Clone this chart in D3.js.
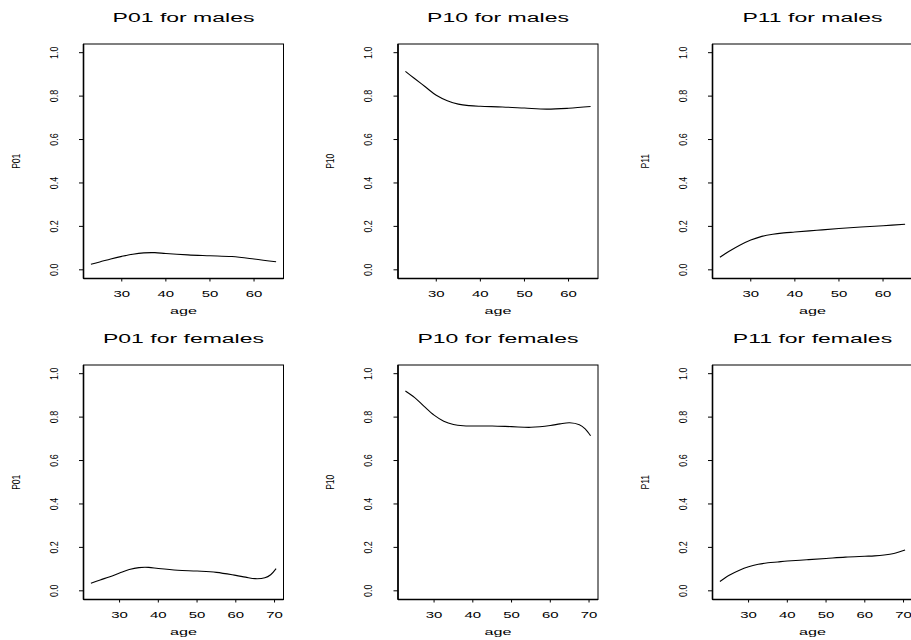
<!DOCTYPE html>
<html>
<head>
<meta charset="utf-8">
<script src="https://cdn.jsdelivr.net/npm/d3@7"></script>
<style>
  html, body { margin: 0; padding: 0; background: #fff; }
  svg { display: block; }
  text { font-family: "Liberation Sans", Arial, Helvetica, sans-serif; fill: #000; }
</style>
</head>
<body>
<svg id="chart" width="911" height="640"></svg>
<script>
// ---------------- data ----------------
const maleAge   = [23, 25, 27.5, 30, 32.5, 35, 37.5, 40, 45, 50, 55, 60, 65];
const p01Male   = [0.026, 0.036, 0.050, 0.062, 0.072, 0.078, 0.079, 0.075, 0.069, 0.065, 0.061, 0.050, 0.037];
const p10Male   = [0.914, 0.882, 0.843, 0.804, 0.779, 0.763, 0.756, 0.753, 0.750, 0.745, 0.740, 0.744, 0.752];
const p11Male   = [0.058, 0.084, 0.113, 0.137, 0.154, 0.164, 0.170, 0.174, 0.182, 0.190, 0.197, 0.203, 0.210];

const femaleAge = [22.6, 25, 27.5, 30, 32.5, 35, 37.5, 40, 45, 50, 55, 60, 62.5, 65, 67.5, 69, 70.4];
const p01Female = [0.035, 0.050, 0.065, 0.082, 0.098, 0.107, 0.108, 0.103, 0.095, 0.091, 0.085, 0.071, 0.063, 0.056, 0.060, 0.074, 0.102];
const p10Female = [0.920, 0.890, 0.848, 0.809, 0.781, 0.766, 0.760, 0.759, 0.759, 0.756, 0.753, 0.761, 0.769, 0.774, 0.765, 0.746, 0.714];
const p11Female = [0.043, 0.072, 0.094, 0.111, 0.122, 0.129, 0.133, 0.137, 0.143, 0.149, 0.155, 0.159, 0.161, 0.165, 0.172, 0.180, 0.188];

const yTicks = [0, 0.2, 0.4, 0.6, 0.8, 1.0];
const yTickLabels = ["0.0", "0.2", "0.4", "0.6", "0.8", "1.0"];
const xTicksMale = [30, 40, 50, 60];
const xTicksFemale = [30, 40, 50, 60, 70];
const titles = ["P01 for males", "P10 for males", "P11 for males",
                "P01 for females", "P10 for females", "P11 for females"];
const yLabels = ["P01", "P10", "P11", "P01", "P10", "P11"];
const xLabel = "age";

// ---------------- layout ----------------
const lefts = [83.5, 398, 712.5];
const tops = [44, 365];
const PW = 200, PH = 234.5;

const panels = [
  { x: maleAge, y: p01Male, ticks: xTicksMale },
  { x: maleAge, y: p10Male, ticks: xTicksMale },
  { x: maleAge, y: p11Male, ticks: xTicksMale },
  { x: femaleAge, y: p01Female, ticks: xTicksFemale },
  { x: femaleAge, y: p10Female, ticks: xTicksFemale },
  { x: femaleAge, y: p11Female, ticks: xTicksFemale }
];

const svg = d3.select("#chart");

panels.forEach((p, i) => {
  const col = i % 3, row = Math.floor(i / 3);
  const L = lefts[col], T = tops[row];
  const g = svg.append("g").attr("transform", `translate(${L},${T})`);

  const ext = d3.extent(p.x);
  const pad = (ext[1] - ext[0]) * 0.04;
  const xs = d3.scaleLinear().domain([ext[0] - pad, ext[1] + pad]).range([0, PW]);
  const ys = d3.scaleLinear().domain([-0.04, 1.04]).range([PH, 0]);

  // box
  g.append("rect").attr("x", 0).attr("y", 0).attr("width", PW).attr("height", PH)
    .attr("fill", "none").attr("stroke", "#000").attr("stroke-width", 1);
  g.append("line").attr("x1", 0).attr("x2", 0).attr("y1", 0).attr("y2", PH)
    .attr("stroke", "#000").attr("stroke-width", 1.6);
  g.append("line").attr("x1", 0).attr("x2", PW).attr("y1", PH).attr("y2", PH)
    .attr("stroke", "#000").attr("stroke-width", 1.6);

  // y axis ticks
  yTicks.forEach((t, k) => {
    const yy = ys(t);
    g.append("line").attr("x1", -4.5).attr("x2", 0).attr("y1", yy).attr("y2", yy)
      .attr("stroke", "#000").attr("stroke-width", 1);
    g.append("text")
      .attr("transform", `translate(-26,${yy}) rotate(-90) scale(0.85,1)`)
      .attr("text-anchor", "middle")
      .attr("font-size", 10.5)
      .text(yTickLabels[k]);
  });

  // x axis ticks
  p.ticks.forEach(t => {
    const xx = xs(t);
    g.append("line").attr("x1", xx).attr("x2", xx).attr("y1", PH).attr("y2", PH + 3)
      .attr("stroke", "#000").attr("stroke-width", 1);
    g.append("text")
      .attr("transform", `translate(${xx},${PH + 18.5}) scale(1.7,1)`)
      .attr("text-anchor", "middle")
      .attr("font-size", 8.8)
      .text(t);
  });

  // axis labels
  g.append("text")
    .attr("transform", `translate(${PW / 2},${PH + 35}) scale(1.65,1)`)
    .attr("text-anchor", "middle")
    .attr("font-size", 9.8)
    .text(xLabel);
  g.append("text")
    .attr("transform", `translate(-64,${PH / 2}) rotate(-90) scale(0.85,1)`)
    .attr("text-anchor", "middle")
    .attr("font-size", 10)
    .text(yLabels[i]);

  // title
  g.append("text")
    .attr("transform", `translate(${PW / 2},${-22}) scale(1.84,1)`)
    .attr("text-anchor", "middle")
    .attr("font-size", 12.5)
    .text(titles[i]);

  // curve
  const line = d3.line()
    .x((d, k) => xs(p.x[k]))
    .y(d => ys(d))
    .curve(d3.curveCatmullRom.alpha(0.5));
  g.append("path").datum(p.y).attr("d", line)
    .attr("fill", "none").attr("stroke", "#000").attr("stroke-width", 1.1);
});
</script>
</body>
</html>
